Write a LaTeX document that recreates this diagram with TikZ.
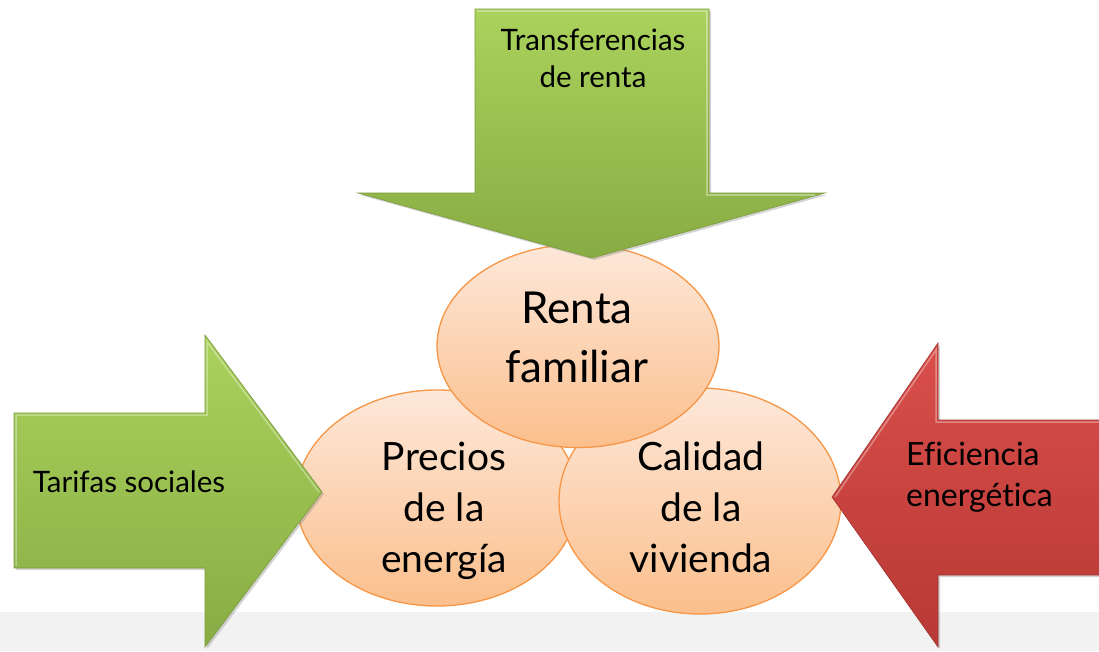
\documentclass[tikz,border=0pt]{standalone}
\usepackage{fontspec}
\setmainfont{Lato}[Ligatures=NoCommon]
\usetikzlibrary{shapes.geometric,shadows}
\definecolor{gA}{HTML}{AAD25C}
\definecolor{gB}{HTML}{88AC44}
\definecolor{gD}{HTML}{7A9B3B}
\definecolor{rA}{HTML}{DA4E4A}
\definecolor{rB}{HTML}{B73935}
\definecolor{rD}{HTML}{A0322F}
\definecolor{eA}{HTML}{FDE8DA}
\definecolor{eB}{HTML}{FBBF8C}
\definecolor{eD}{HTML}{F79646}
\definecolor{band}{HTML}{F2F2F2}
\tikzset{
  greenarrow/.style={top color=gA, bottom color=gB, draw=gD, line width=0.6pt, line join=miter,
    drop shadow={opacity=0.35, shadow xshift=2pt, shadow yshift=-2pt}},
  redarrow/.style={top color=rA, bottom color=rB, draw=rD, line width=0.6pt, line join=miter,
    drop shadow={opacity=0.35, shadow xshift=2pt, shadow yshift=-2pt}},
  bevel/.style={draw=white, draw opacity=0.35, line width=1.5pt, line join=miter},
  bulb/.style={ellipse, draw=eD, line width=1.3pt, top color=eA, bottom color=eB,
    minimum width=282pt, inner sep=0pt},
  bigtxt/.style={font=\fontsize{44}{59}\selectfont, align=center, inner sep=0pt, anchor=base},
  midtxt/.style={font=\fontsize{39}{51}\selectfont, align=center, inner sep=0pt, anchor=base},
  armtxt/.style={font=\fontsize{29.5}{37}\selectfont, text=black, inner sep=0pt},
}
\begin{document}
\begin{tikzpicture}[x=1pt,y=-1pt]
\useasboundingbox (0,0) rectangle (1099,651);
\fill[band] (0,612) rectangle (1099,651);
% ellipses
\node[bulb, minimum height=216pt] (precios) at (437,498) {};
\node[midtxt] (preciostxt) at (444,572) {Precios\\de la\\energía};
\node[bulb, minimum height=226pt] (calidad) at (700,501) {};
\node[midtxt] (calidadtxt) at (701,572) {Calidad\\de la\\vivienda};
\node[bulb, minimum height=203pt] (renta) at (578,346) {};
\node[bigtxt] (rentatxt) at (577,382) {Renta\\familiar};
% arrows
\path[greenarrow] (475,9) -- (709,9) -- (709,193) -- (825,193) -- (592,258) -- (358,193) -- (475,193) -- cycle;
\draw[bevel] (477,11) -- (707,11) -- (707,195) -- (815,195);
\path[greenarrow] (14,413) -- (205,413) -- (205,335) -- (322,492) -- (205,647) -- (205,568) -- (14,568) -- cycle;
\draw[bevel] (16,566) -- (16,415) -- (207,415) -- (207,342) -- (319,492);
\path[redarrow] (1110,420) -- (938,420) -- (938,343) -- (832,497) -- (938,647) -- (938,575) -- (1110,575) -- cycle;
\draw[bevel] (835,497) -- (936,350) -- (936,422) -- (1099,422);
% arrow labels
\node[armtxt, align=center, anchor=base] (transf) at (593,87) {Transferencias\\de renta};
\node[armtxt, anchor=base] (tarifas) at (129,492) {Tarifas sociales};
\node[armtxt, font=\fontsize{32}{41}\selectfont, align=left, anchor=base west] (efic) at (906,506) {Eficiencia\\energética};
\end{tikzpicture}
\end{document}
